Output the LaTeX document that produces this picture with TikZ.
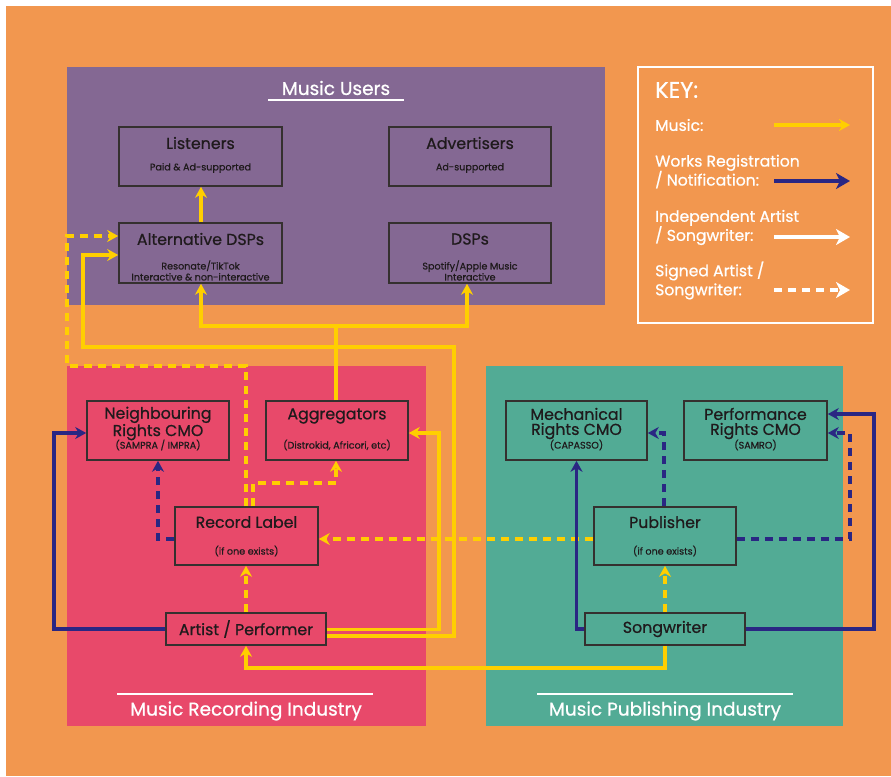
\documentclass[tikz,border=0pt]{standalone}
\usepackage{fontspec}
\setmainfont{Poppins}[FakeBold=0.7]
\usetikzlibrary{arrows.meta}
\definecolor{bgorange}{HTML}{F2974F}
\definecolor{upurple}{HTML}{846893}
\definecolor{rred}{HTML}{E8496A}
\definecolor{pgreen}{HTML}{52AB95}
\definecolor{myellow}{HTML}{FFCF00}
\definecolor{navy}{HTML}{2A2683}
\definecolor{boxline}{HTML}{35302F}
\definecolor{txt}{HTML}{1F1A1C}
\tikzset{
  box/.style={draw=boxline, line width=1.6pt, inner sep=0pt},
  ttl/.style={text=txt, font=\fontsize{15.8}{15}\selectfont, inner sep=0pt, align=center},
  sub/.style={text=txt, font=\fontsize{9.6}{11}\selectfont, inner sep=0pt, align=center},
  paneltitle/.style={text=white, font=\fontsize{18.5}{20}\selectfont, inner sep=0pt},
  underl/.style={draw=white, line width=2pt},
  tip/.style={-{Stealth[length=11pt,width=12pt,inset=3.5pt]}},
  music/.style={draw=myellow, line width=3.2pt, tip},
  works/.style={draw=navy, line width=3.2pt, tip},
  signed/.style={dash pattern=on 8pt off 6pt},
  keytxt/.style={text=white, font=\fontsize{15.6}{19}\selectfont, inner sep=0pt, anchor=west, align=left},
}
\begin{document}
\begin{tikzpicture}[x=1pt,y=-1pt]
\useasboundingbox (0,0) rectangle (891,776);
\fill[white] (0,0) rectangle (891,776);
\fill[bgorange] (6,6) rectangle (891,776);
% panels
\fill[upurple] (67,67) rectangle (605,305);
\fill[rred] (67,366) rectangle (426,726);
\fill[pgreen] (486,366) rectangle (843,726);

% panel titles
\node[paneltitle] (tusers) at (336,88) {Music Users};
\draw[underl] (268,100) -- (404,100);
\node[paneltitle] (trec) at (246,711) {Music Recording Industry};
\draw[underl] (117,694) -- (373,694);
\node[paneltitle] (tpub) at (665,711) {Music Publishing Industry};
\draw[underl] (537,694) -- (793,694);

% boxes
\node[box, minimum width=163pt, minimum height=59pt] (lis) at (200.5,156.5) {};
\node[ttl] (lisT) at (200.5,143) {Listeners};
\node[sub] (lisS) at (200.5,168) {Paid \& Ad-supported};

\node[box, minimum width=162pt, minimum height=59pt] (adv) at (470,156.5) {};
\node[ttl] (advT) at (470,143) {Advertisers};
\node[sub] (advS) at (470,168) {Ad-supported};

\node[box, minimum width=163pt, minimum height=60pt] (alt) at (200.5,253) {};
\node[ttl] (altT) at (200.5,239) {Alternative DSPs};
\node[sub] (altS) at (200.5,270.5) {Resonate/TikTok\\Interactive \& non-interactive};

\node[box, minimum width=162pt, minimum height=60pt] (dsp) at (470,253) {};
\node[ttl] (dspT) at (470,239) {DSPs};
\node[sub] (dspS) at (470,270.5) {Spotify/Apple Music\\Interactive};

\node[box, minimum width=142pt, minimum height=59pt] (nrc) at (158,430.5) {};
\node[ttl] (nrcT) at (158,423.5) {Neighbouring\\Rights CMO};
\node[sub] (nrcS) at (158,445) {(SAMPRA / IMPRA)};

\node[box, minimum width=142pt, minimum height=59pt] (agg) at (337,430.5) {};
\node[ttl] (aggT) at (337,416) {Aggregators};
\node[sub] (aggS) at (337,445) {(Distrokid, Africori, etc)};

\node[box, minimum width=143pt, minimum height=58pt] (rec) at (246.5,536) {};
\node[ttl] (recT) at (246.5,522) {Record Label};
\node[sub] (recS) at (246.5,551) {(if one exists)};

\node[box, minimum width=160pt, minimum height=32pt] (art) at (246,629) {};
\node[ttl] (artT) at (246,629) {Artist / Performer};

\node[box, minimum width=141pt, minimum height=59pt] (mec) at (576.5,430.5) {};
\node[ttl] (mecT) at (576.5,423.5) {Mechanical\\Rights CMO};
\node[sub] (mecS) at (576.5,445) {(CAPASSO)};

\node[box, minimum width=143pt, minimum height=59pt] (per) at (755.5,430.5) {};
\node[ttl] (perT) at (755.5,423.5) {Performance\\Rights CMO};
\node[sub] (perS) at (755.5,445) {(SAMRO)};

\node[box, minimum width=142pt, minimum height=58pt] (pub) at (665,536) {};
\node[ttl] (pubT) at (665,522) {Publisher};
\node[sub] (pubS) at (665,551) {(if one exists)};

\node[box, minimum width=160pt, minimum height=32pt] (song) at (665,629) {};
\node[ttl] (songT) at (665,629) {Songwriter};

% ---- yellow solid (music)
\draw[music] (alt.north -| 201,0) -- (lis.south -| 201,0);
\coordinate (j1) at (336,326);
\draw[draw=myellow, line width=3.2pt] (agg.north -| 336,0) -- (j1);
\draw[music] (j1) -| (alt.south -| 201,0);
\draw[music] (j1) -| (dsp.south -| 467,0);
\draw[music] (art.east |- 0,636) -- (454,636) -- (454,347) -- (83,347) -- (83,255) -- (alt.west |- 0,255);
\draw[music] (art.east |- 0,629.5) -- (439,629.5) -- (439,433) -- (agg.east |- 0,433);
\draw[music] (song.south) -- (665,668) -| (art.south);

% ---- yellow dashed (signed)
\draw[music, signed] (art.north) -- (art.north |- rec.south);
\draw[music, signed] (rec.north -| 253,0) -- (253,483) -| (agg.south -| 336,0);
\draw[music, signed] (rec.north -| 246,0) -- (246,366) -| (67,236) -- (alt.west |- 0,236);
\draw[music, signed] (song.north) -- (pub.south);
\draw[music, signed] (pub.west |- 0,539) -- (rec.east |- 0,539);

% ---- navy solid (works)
\draw[works] (art.west) -- (54,629) -- (54,433) -- (nrc.west |- 0,433);
\draw[works] (song.west) -| (mec.south);
\draw[works] (song.east) -- (874,629) -- (874,414) -- (per.east |- 0,414);

% ---- navy dashed
\draw[works, signed] (rec.west |- 0,539) -| (nrc.south);
\draw[works, signed] (pub.north -| 664,0) -- (664,433) -- (mec.east |- 0,433);
\draw[works, signed] (pub.east |- 0,539) -- (850,539) -- (850,433) -- (per.east |- 0,433);

% ---- key
\draw[white, line width=2.2pt] (638,67) rectangle (873,323);
\node[keytxt, font=\fontsize{22.5}{24}\selectfont] (kT) at (655,90) {KEY:};
\node[keytxt] (k1) at (655,125) {Music:};
\node[keytxt] (k2) at (655,171.5) {Works Registration\\/ Notification:};
\node[keytxt] (k3) at (655,227.5) {Independent Artist\\/ Songwriter:};
\node[keytxt] (k4) at (655,280.5) {Signed Artist /\\Songwriter:};
\coordinate (k1s) at (774,125); \coordinate (k1e) at (850,125);
\coordinate (k2s) at (774,181); \coordinate (k2e) at (850,181);
\coordinate (k3s) at (774,237); \coordinate (k3e) at (850,237);
\coordinate (k4s) at (774,290); \coordinate (k4e) at (850,290);
\draw[music, tip={-{Stealth[length=14pt,width=16pt,inset=4pt]}}] (k1s) -- (k1e);
\draw[works, -{Stealth[length=14pt,width=16pt,inset=4pt]}] (k2s) -- (k2e);
\draw[draw=white, line width=3.2pt, -{Stealth[length=14pt,width=16pt,inset=4pt]}] (k3s) -- (k3e);
\draw[draw=white, line width=3.2pt, -{Stealth[length=14pt,width=16pt,inset=4pt]}, signed] (k4s) -- (k4e);
\end{tikzpicture}
\end{document}
